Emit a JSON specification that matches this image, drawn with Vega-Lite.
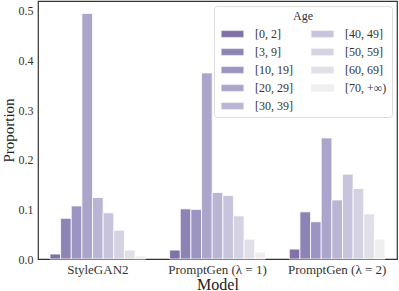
{
  "$schema": "https://vega.github.io/schema/vega-lite/v6.json",
  "width": 359,
  "height": 258,
  "autosize": {"type": "none"},
  "padding": {"left": 38, "top": 1, "right": 2, "bottom": 32},
  "config": {
    "font": "Liberation Serif",
    "view": {"stroke": "#333333", "strokeWidth": 1.2},
    "axis": {"domain": false, "ticks": false, "grid": false, "labelFont": "Liberation Serif", "titleFont": "Liberation Serif", "labelColor": "#333333", "titleColor": "#222222", "titleFontWeight": "normal"},
    "legend": {"labelFont": "Liberation Serif", "titleFont": "Liberation Serif"}
  },
  "data": {"values": [
    {"Model": "StyleGAN2", "Age": "[0, 2]", "p": 0.010},
    {"Model": "StyleGAN2", "Age": "[3, 9]", "p": 0.082},
    {"Model": "StyleGAN2", "Age": "[10, 19]", "p": 0.107},
    {"Model": "StyleGAN2", "Age": "[20, 29]", "p": 0.495},
    {"Model": "StyleGAN2", "Age": "[30, 39]", "p": 0.124},
    {"Model": "StyleGAN2", "Age": "[40, 49]", "p": 0.093},
    {"Model": "StyleGAN2", "Age": "[50, 59]", "p": 0.058},
    {"Model": "StyleGAN2", "Age": "[60, 69]", "p": 0.018},
    {"Model": "StyleGAN2", "Age": "[70, +∞)", "p": 0.006},
    {"Model": "PromptGen (λ = 1)", "Age": "[0, 2]", "p": 0.018},
    {"Model": "PromptGen (λ = 1)", "Age": "[3, 9]", "p": 0.101},
    {"Model": "PromptGen (λ = 1)", "Age": "[10, 19]", "p": 0.100},
    {"Model": "PromptGen (λ = 1)", "Age": "[20, 29]", "p": 0.375},
    {"Model": "PromptGen (λ = 1)", "Age": "[30, 39]", "p": 0.134},
    {"Model": "PromptGen (λ = 1)", "Age": "[40, 49]", "p": 0.128},
    {"Model": "PromptGen (λ = 1)", "Age": "[50, 59]", "p": 0.087},
    {"Model": "PromptGen (λ = 1)", "Age": "[60, 69]", "p": 0.040},
    {"Model": "PromptGen (λ = 1)", "Age": "[70, +∞)", "p": 0.014},
    {"Model": "PromptGen (λ = 2)", "Age": "[0, 2]", "p": 0.020},
    {"Model": "PromptGen (λ = 2)", "Age": "[3, 9]", "p": 0.095},
    {"Model": "PromptGen (λ = 2)", "Age": "[10, 19]", "p": 0.075},
    {"Model": "PromptGen (λ = 2)", "Age": "[20, 29]", "p": 0.244},
    {"Model": "PromptGen (λ = 2)", "Age": "[30, 39]", "p": 0.119},
    {"Model": "PromptGen (λ = 2)", "Age": "[40, 49]", "p": 0.171},
    {"Model": "PromptGen (λ = 2)", "Age": "[50, 59]", "p": 0.142},
    {"Model": "PromptGen (λ = 2)", "Age": "[60, 69]", "p": 0.091},
    {"Model": "PromptGen (λ = 2)", "Age": "[70, +∞)", "p": 0.040}
  ]},
  "mark": {"type": "bar", "stroke": "white", "strokeWidth": 0.8},
  "encoding": {
    "x": {
      "field": "Model", "type": "nominal", "sort": null,
      "scale": {"paddingInner": 0.2, "paddingOuter": 0.1},
      "axis": {"title": "Model", "labelAngle": 0, "labelFontSize": 13, "labelPadding": 4, "titleFontSize": 16, "titlePadding": 0}
    },
    "xOffset": {"field": "Age", "type": "nominal", "sort": null, "scale": {"paddingInner": 0, "paddingOuter": 0}},
    "y": {
      "field": "p", "type": "quantitative",
      "scale": {"domain": [0, 0.52], "nice": false},
      "axis": {"title": "Proportion", "values": [0, 0.1, 0.2, 0.3, 0.4, 0.5], "format": ".1f", "labelFontSize": 12, "labelPadding": 5, "titleFontSize": 15, "titlePadding": 2}
    },
    "color": {
      "field": "Age", "type": "nominal", "sort": null,
      "scale": {
        "domain": ["[0, 2]", "[3, 9]", "[10, 19]", "[20, 29]", "[30, 39]", "[40, 49]", "[50, 59]", "[60, 69]", "[70, +∞)"],
        "range": ["#7f72a9", "#8d84b5", "#9c94c2", "#aba5cb", "#bab5d4", "#c8c4dd", "#d5d2e3", "#e1e0e8", "#efefef"]
      },
      "legend": {
        "title": "Age",
        "orient": "top-right",
        "offset": 5,
        "columns": 2,
        "titleAnchor": "middle",
        "titleFontSize": 12,
        "titleFontWeight": "normal",
        "titleColor": "#333333",
        "titlePadding": 5,
        "labelFontSize": 12,
        "labelColor": "#333333",
        "symbolType": "M-1,-0.9H5V0.9H-1Z",
        "symbolSize": 56,
        "symbolStrokeColor": "#eeeeee",
        "symbolStrokeWidth": 0.5,
        "rowPadding": 6,
        "columnPadding": 16,
        "labelOffset": 24,
        "padding": 5,
        "fillColor": "white",
        "strokeColor": "#dddddd",
        "cornerRadius": 3
      }
    }
  }
}
